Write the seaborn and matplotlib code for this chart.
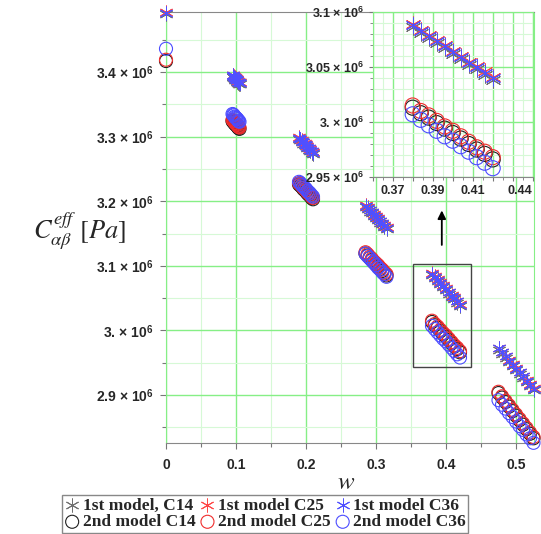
import numpy as np
import matplotlib
matplotlib.use("Agg")
import matplotlib.pyplot as plt
import seaborn as sns
from matplotlib.ticker import MultipleLocator, FuncFormatter
from matplotlib.patches import Rectangle

# w values, shared by every series (one point at 0, then 5 clusters of 11)
w_vals = [0.0,
          0.095, 0.096, 0.097, 0.098, 0.099, 0.100, 0.101, 0.102, 0.103, 0.104, 0.105,
          0.190, 0.192, 0.194, 0.196, 0.198, 0.200, 0.202, 0.204, 0.206, 0.208, 0.210,
          0.285, 0.288, 0.291, 0.294, 0.297, 0.300, 0.303, 0.306, 0.309, 0.312, 0.315,
          0.380, 0.384, 0.388, 0.392, 0.396, 0.400, 0.404, 0.408, 0.412, 0.416, 0.420,
          0.475, 0.480, 0.485, 0.490, 0.495, 0.500, 0.505, 0.510, 0.515, 0.520, 0.525]

# C_eff in units of 10^6 Pa
m1_c14 = [3.490,
          3.393, 3.392, 3.391, 3.389, 3.388, 3.387, 3.386, 3.385, 3.383, 3.382, 3.381,
          3.296, 3.294, 3.291, 3.289, 3.287, 3.285, 3.282, 3.280, 3.278, 3.275, 3.273,
          3.191, 3.188, 3.184, 3.181, 3.177, 3.174, 3.171, 3.167, 3.164, 3.160, 3.157,
          3.086, 3.081, 3.076, 3.072, 3.067, 3.062, 3.057, 3.052, 3.048, 3.043, 3.038,
          2.970, 2.964, 2.958, 2.951, 2.945, 2.939, 2.933, 2.927, 2.920, 2.914, 2.908]
m1_c25 = [3.493,
          3.396, 3.395, 3.394, 3.392, 3.391, 3.390, 3.389, 3.388, 3.386, 3.385, 3.384,
          3.299, 3.297, 3.294, 3.292, 3.290, 3.288, 3.285, 3.283, 3.281, 3.278, 3.276,
          3.194, 3.191, 3.187, 3.184, 3.180, 3.177, 3.174, 3.170, 3.167, 3.163, 3.160,
          3.089, 3.084, 3.079, 3.075, 3.070, 3.065, 3.060, 3.055, 3.051, 3.046, 3.041,
          2.973, 2.967, 2.961, 2.954, 2.948, 2.942, 2.936, 2.930, 2.923, 2.917, 2.911]
m1_c36 = [3.492,
          3.395, 3.394, 3.393, 3.391, 3.390, 3.389, 3.388, 3.387, 3.385, 3.384, 3.383,
          3.298, 3.296, 3.293, 3.291, 3.289, 3.287, 3.284, 3.282, 3.280, 3.277, 3.275,
          3.193, 3.190, 3.186, 3.183, 3.179, 3.176, 3.173, 3.169, 3.166, 3.162, 3.159,
          3.088, 3.083, 3.078, 3.074, 3.069, 3.064, 3.059, 3.054, 3.050, 3.045, 3.040,
          2.972, 2.966, 2.960, 2.953, 2.947, 2.941, 2.935, 2.929, 2.922, 2.916, 2.910]
m2_c14 = [3.417,
          3.324, 3.323, 3.322, 3.320, 3.319, 3.318, 3.317, 3.316, 3.314, 3.313, 3.312,
          3.226, 3.224, 3.222, 3.219, 3.217, 3.215, 3.212, 3.210, 3.208, 3.205, 3.203,
          3.119, 3.116, 3.112, 3.109, 3.105, 3.102, 3.099, 3.095, 3.092, 3.088, 3.085,
          3.013, 3.008, 3.004, 2.999, 2.994, 2.990, 2.985, 2.980, 2.975, 2.971, 2.966,
          2.903, 2.896, 2.889, 2.882, 2.875, 2.868, 2.861, 2.854, 2.847, 2.840, 2.833]
m2_c25 = [3.419,
          3.326, 3.325, 3.324, 3.322, 3.321, 3.320, 3.319, 3.318, 3.316, 3.315, 3.314,
          3.228, 3.226, 3.224, 3.221, 3.219, 3.217, 3.214, 3.212, 3.210, 3.207, 3.205,
          3.121, 3.118, 3.114, 3.111, 3.107, 3.104, 3.101, 3.097, 3.094, 3.090, 3.087,
          3.015, 3.010, 3.006, 3.001, 2.996, 2.992, 2.987, 2.982, 2.977, 2.973, 2.968,
          2.905, 2.898, 2.891, 2.884, 2.877, 2.870, 2.863, 2.856, 2.849, 2.842, 2.835]
m2_c36 = [3.436,
          3.335, 3.334, 3.333, 3.331, 3.330, 3.329, 3.328, 3.327, 3.325, 3.324, 3.323,
          3.230, 3.228, 3.225, 3.223, 3.221, 3.219, 3.216, 3.214, 3.212, 3.209, 3.207,
          3.119, 3.115, 3.112, 3.108, 3.105, 3.101, 3.097, 3.094, 3.090, 3.087, 3.083,
          3.007, 3.002, 2.997, 2.992, 2.987, 2.983, 2.978, 2.973, 2.968, 2.963, 2.958,
          2.892, 2.885, 2.879, 2.872, 2.866, 2.859, 2.852, 2.846, 2.839, 2.833, 2.826]

labels = ["1st model, C14", "1st model C25", "1st model C36",
          "2nd model C14", "2nd model C25", "2nd model C36"]

inset_xticks = [0.36, 0.37, 0.38, 0.39, 0.40, 0.41, 0.42, 0.43, 0.44]
inset_xlabels = ["", "0.37", "", "0.39", "", "0.41", "", "", "0.44"]

sns.set_style("white")
plt.rcParams["font.family"] = ["Liberation Sans", "DejaVu Sans"]
plt.rcParams["font.weight"] = "bold"
# serif maths for the axis labels, bold sans for the exponent of tick labels
plt.rcParams["mathtext.fontset"] = "custom"
plt.rcParams["mathtext.rm"] = "STIXGeneral:weight=normal"
plt.rcParams["mathtext.it"] = "STIXGeneral:style=italic:weight=normal"
plt.rcParams["mathtext.bf"] = "Liberation Sans:weight=bold"

STAR = (6, 2, 0)
GRID_MAJ = "#86ef86"
GRID_MIN = "#d6f9d6"
star_cols = ["#707070", "#ff4848", "#5050ff"]
circ_cols = ["#202020", "#f02c2c", "#4c4cff"]


def series():
    stars = [m1_c14, m1_c25, m1_c36]
    circs = [m2_c14, m2_c25, m2_c36]
    for ys, c, lab in zip(stars, star_cols, labels[:3]):
        yield ys, c, lab, "star"
    for ys, c, lab in zip(circs, circ_cols, labels[3:]):
        yield ys, c, lab, "circ"


def draw(ax, s_star, s_circ, clip):
    for ys, c, lab, kind in series():
        y = np.array(ys) * 1e6
        if kind == "star":
            sns.scatterplot(x=w_vals, y=y, ax=ax, marker=STAR, s=s_star, color=c,
                            linewidth=0.7, clip_on=clip, label=lab, zorder=3)
        else:
            sns.scatterplot(x=w_vals, y=y, ax=ax, marker="o", s=s_circ, color=c,
                            facecolor="none", edgecolor=c, linewidth=0.8,
                            clip_on=clip, label=lab, zorder=3)
    if ax.get_legend() is not None:
        ax.get_legend().remove()


def sci(v, pos):
    s = f"{v / 1e6:.2f}".rstrip("0")
    return s + r" × 10$^{\mathbf{6}}$"


fig = plt.figure(figsize=(5.41, 5.34), dpi=100)
ax = fig.add_axes([166 / 541, 1 - 443 / 534, 367.5 / 541, 431 / 534])
draw(ax, 90, 88, False)

ax.set_xlim(0, 0.525)
ax.set_ylim(2.8257e6, 3.4929e6)
ax.xaxis.set_major_locator(MultipleLocator(0.1))
ax.xaxis.set_minor_locator(MultipleLocator(0.05))
ax.yaxis.set_major_locator(MultipleLocator(0.1e6))
ax.yaxis.set_minor_locator(MultipleLocator(0.05e6))
ax.xaxis.set_major_formatter(FuncFormatter(lambda v, p: "0" if v == 0 else f"{v:.1f}"))
ax.yaxis.set_major_formatter(FuncFormatter(sci))
ax.grid(which="major", color=GRID_MAJ, lw=1.0)
ax.grid(which="minor", color=GRID_MIN, lw=0.8)
ax.set_axisbelow(True)
ax.tick_params(which="both", direction="out", color="#777777", left=True, bottom=True,
               labelsize=10)
ax.tick_params(which="major", length=4, width=0.8)
ax.tick_params(which="minor", length=3, width=0.8)
ax.tick_params(axis="x", pad=7)
ax.tick_params(axis="y", pad=5)
for side in ["top", "bottom"]:
    ax.spines[side].set_color("#888888")
for side in ["left", "right"]:
    ax.spines[side].set_color(GRID_MAJ)
ax.set_xlabel("")
ax.set_ylabel("")

# zoom box and arrow
ax.add_patch(Rectangle((0.353, 2.944e6), 0.083, 0.159e6, fill=False,
                       edgecolor="#444444", lw=1.0, zorder=4))
ax.annotate("", xy=(0.394, 3.19e6), xytext=(0.394, 3.128e6),
            arrowprops=dict(arrowstyle="-|>", color="black", lw=1.3, mutation_scale=12))

# inset
axi = fig.add_axes([372.7 / 541, 1 - 177 / 534, 160 / 541, 165 / 534])
axi.set_facecolor("white")
draw(axi, 120, 118, True)
axi.set_xlim(0.36, 0.44)
axi.set_ylim(2.95e6, 3.1e6)
axi.set_xticks(inset_xticks, inset_xlabels)
axi.xaxis.set_minor_locator(MultipleLocator(0.005))
axi.yaxis.set_major_locator(MultipleLocator(0.05e6))
axi.yaxis.set_minor_locator(MultipleLocator(0.01e6))
axi.yaxis.set_major_formatter(FuncFormatter(sci))
axi.grid(which="major", color=GRID_MAJ, lw=1.0)
axi.grid(which="minor", color=GRID_MIN, lw=0.8)
axi.set_axisbelow(True)
axi.tick_params(which="both", direction="out", color="#777777", left=True, bottom=True,
                labelsize=9)
axi.tick_params(which="major", length=3, width=0.8)
axi.tick_params(which="minor", length=2, width=0.6)
axi.tick_params(axis="x", pad=3)
axi.tick_params(axis="y", pad=3)
axi.xaxis.get_major_ticks()[-1].label1.set_horizontalalignment("right")
axi.spines["bottom"].set_color("#888888")
for side in ["left", "right", "top"]:
    axi.spines[side].set_color(GRID_MAJ)
axi.set_xlabel("")
axi.set_ylabel("")

# axis labels
fig.text(0.148, 0.566, r"$C_{\alpha\beta}^{eff}\ [Pa]$", fontsize=19, fontweight="normal",
         ha="center", va="center")
fig.text(0.64, 0.097, r"$w$", fontsize=18, fontweight="normal",
         ha="center", va="center")

# legend
h, l = ax.get_legend_handles_labels()
order = [0, 3, 1, 4, 2, 5]
fig.legend([h[i] for i in order], [l[i] for i in order], ncol=3,
           loc="lower center", bbox_to_anchor=(0.49, 0.002),
           prop={"family": "Liberation Serif", "weight": "bold", "size": 12.5},
           frameon=True, fancybox=False, edgecolor="#888888", framealpha=1,
           handlelength=0.9, handletextpad=0.15, columnspacing=0.25,
           labelspacing=0.02, borderpad=0.15, borderaxespad=0)

fig.savefig("out.png", dpi=100)
